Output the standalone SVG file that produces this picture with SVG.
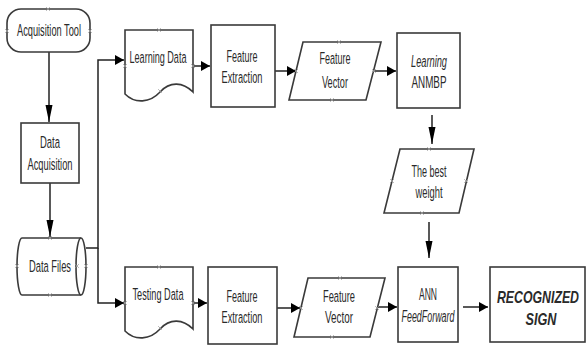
<svg xmlns="http://www.w3.org/2000/svg" width="587" height="345" viewBox="0 0 587 345">
<style>
  .n { fill: #ffffff; stroke: #3a3a3a; stroke-width: 1.6; }
  .t { font-family: "Liberation Sans", Arial, sans-serif; font-size: 16.5px; fill: #2a2a2a; text-anchor: middle; }
  .s { transform: scale(0.55, 1); }
  .s2 { transform: scale(0.75, 1); }
  .i { font-style: italic; }
  .b { font-weight: bold; }
  .c { fill: none; stroke: #222; stroke-width: 1.5; }
  .cp { fill: none; stroke: #9a9a9a; stroke-width: 0.8; }
</style>
<defs>
  <marker id="ah" markerUnits="userSpaceOnUse" markerWidth="10" markerHeight="12" refX="9" refY="5" orient="auto">
    <path d="M0,0 L9,5 L0,10 Z" fill="#000"/>
  </marker>
  <marker id="av" markerUnits="userSpaceOnUse" markerWidth="18" markerHeight="8" refX="17" refY="3.5" orient="auto">
    <path d="M0,0 L17,3.5 L0,7 Z" fill="#000"/>
  </marker>
  <path id="x" d="M-1.8,-1.8 L1.8,1.8 M-1.8,1.8 L1.8,-1.8" class="cp"/>
</defs>

<g id="connectors">
  <line class="c" x1="49" y1="52" x2="49" y2="122" marker-end="url(#av)"/>
  <line class="c" x1="50" y1="183" x2="50" y2="237" marker-end="url(#av)"/>
  <polyline class="c" points="86,248 98,248 98,60 124,60" marker-end="url(#ah)"/>
  <polyline class="c" points="98,248 98,303 124,303" marker-end="url(#ah)"/>
  <line class="c" x1="193" y1="66" x2="210" y2="66" marker-end="url(#ah)"/>
  <line class="c" x1="275" y1="71" x2="296" y2="71" marker-end="url(#ah)"/>
  <line class="c" x1="374" y1="71" x2="396" y2="71" marker-end="url(#ah)"/>
  <line class="c" x1="432" y1="115" x2="432" y2="144" marker-end="url(#av)"/>
  <line class="c" x1="429" y1="222" x2="429" y2="258" marker-end="url(#av)"/>
  <line class="c" x1="193" y1="303" x2="207" y2="303" marker-end="url(#ah)"/>
  <line class="c" x1="277" y1="308" x2="300" y2="308" marker-end="url(#ah)"/>
  <line class="c" x1="377" y1="307" x2="397" y2="307" marker-end="url(#ah)"/>
  <line class="c" x1="463" y1="307" x2="488" y2="307" marker-end="url(#ah)"/>
</g>

<g id="acquisition-tool">
  <rect class="n" x="7" y="9" width="83" height="43" rx="14" ry="14"/>
  <text class="t s" x="89.09" y="36" textLength="116.36" lengthAdjust="spacingAndGlyphs">Acquisition Tool</text>
  <use href="#x" x="48" y="9"/><use href="#x" x="7" y="31"/><use href="#x" x="90" y="31"/>
</g>

<g id="data-acquisition">
  <rect class="n" x="21" y="123" width="58" height="60"/>
  <text class="t s" x="90.91" y="148" textLength="36.36" lengthAdjust="spacingAndGlyphs">Data</text>
  <text class="t s" x="90.91" y="170" textLength="81.82" lengthAdjust="spacingAndGlyphs">Acquisition</text>
</g>

<g id="data-files">
  <path class="n" d="M22,238 H81 A5,28.5 0 0 1 81,295 H22 A5,28.5 0 0 1 22,238 Z"/>
  <path class="n" fill="none" d="M81,238 A5,28.5 0 0 0 81,295"/>
  <text class="t s" x="90.91" y="272" textLength="76.36" lengthAdjust="spacingAndGlyphs">Data Files</text>
  <use href="#x" x="50" y="238"/><use href="#x" x="50" y="295"/><use href="#x" x="17" y="266"/><use href="#x" x="86" y="266"/><use href="#x" x="77" y="266"/>
</g>

<g id="learning-data">
  <path class="n" d="M125,30 H193 V92 C183,82 170,81 160,92 C150,103 135,104 125,94 Z"/>
  <text class="t s" x="287.27" y="63" textLength="103.64" lengthAdjust="spacingAndGlyphs">Learning Data</text>
  <use href="#x" x="159" y="30"/><use href="#x" x="125" y="66"/><use href="#x" x="193" y="66"/><use href="#x" x="160" y="91"/>
</g>

<g id="feature-extraction-1">
  <rect class="n" x="211" y="25" width="64" height="82"/>
  <text class="t s" x="440" y="62" textLength="56.36" lengthAdjust="spacingAndGlyphs">Feature</text>
  <text class="t s" x="440" y="83" textLength="74.55" lengthAdjust="spacingAndGlyphs">Extraction</text>
</g>

<g id="feature-vector-1">
  <polygon class="n" points="303,42 381,42 366,100 289,100"/>
  <text class="t s" x="609.09" y="64" textLength="56.36" lengthAdjust="spacingAndGlyphs">Feature</text>
  <text class="t s" x="609.09" y="88" textLength="47.27" lengthAdjust="spacingAndGlyphs">Vector</text>
  <use href="#x" x="339" y="42"/><use href="#x" x="332" y="100"/><use href="#x" x="296" y="71"/><use href="#x" x="374" y="71"/>
</g>

<g id="learning-anmbp">
  <rect class="n" x="397" y="33" width="63" height="75"/>
  <text class="t s i" x="780" y="67" textLength="65.45" lengthAdjust="spacingAndGlyphs">Learning</text>
  <text class="t s" x="780" y="88" textLength="63.64" lengthAdjust="spacingAndGlyphs">ANMBP</text>
</g>

<g id="best-weight">
  <polygon class="n" points="400,149 474,149 459,213 384,213"/>
  <text class="t s" x="780" y="177" textLength="63.64" lengthAdjust="spacingAndGlyphs">The best</text>
  <text class="t s" x="780" y="198" textLength="49.09" lengthAdjust="spacingAndGlyphs">weight</text>
  <use href="#x" x="429" y="149"/><use href="#x" x="422" y="213"/><use href="#x" x="392" y="181"/><use href="#x" x="466" y="181"/>
</g>

<g id="testing-data">
  <path class="n" d="M125,267 H193 V329 C183,319 170,318 160,329 C150,340 135,341 125,331 Z"/>
  <text class="t s" x="287.27" y="300" textLength="92.73" lengthAdjust="spacingAndGlyphs">Testing Data</text>
  <use href="#x" x="159" y="267"/><use href="#x" x="125" y="303"/><use href="#x" x="193" y="303"/><use href="#x" x="160" y="328"/>
</g>

<g id="feature-extraction-2">
  <rect class="n" x="208" y="267" width="69" height="77"/>
  <text class="t s" x="440" y="302" textLength="56.36" lengthAdjust="spacingAndGlyphs">Feature</text>
  <text class="t s" x="440" y="323" textLength="74.55" lengthAdjust="spacingAndGlyphs">Extraction</text>
</g>

<g id="feature-vector-2">
  <polygon class="n" points="308,278 385,278 370,337 294,337"/>
  <text class="t s" x="616.36" y="302" textLength="58.18" lengthAdjust="spacingAndGlyphs">Feature</text>
  <text class="t s" x="616.36" y="323" textLength="50.91" lengthAdjust="spacingAndGlyphs">Vector</text>
  <use href="#x" x="340" y="278"/><use href="#x" x="332" y="337"/><use href="#x" x="301" y="308"/><use href="#x" x="377" y="308"/>
</g>

<g id="ann-feedforward">
  <rect class="n" x="398" y="267" width="60" height="75"/>
  <text class="t s" x="778.18" y="300" textLength="32.73" lengthAdjust="spacingAndGlyphs">ANN</text>
  <text class="t s i" x="778.18" y="322" textLength="96.36" lengthAdjust="spacingAndGlyphs">FeedForward</text>
</g>

<g id="recognized-sign">
  <rect class="n" x="490" y="267" width="95" height="75"/>
  <text class="t s2 i b" x="717.33" y="303" textLength="109.33" lengthAdjust="spacingAndGlyphs">RECOGNIZED</text>
  <text class="t s2 i b" x="721.33" y="325" textLength="41.33" lengthAdjust="spacingAndGlyphs">SIGN</text>
</g>
</svg>
